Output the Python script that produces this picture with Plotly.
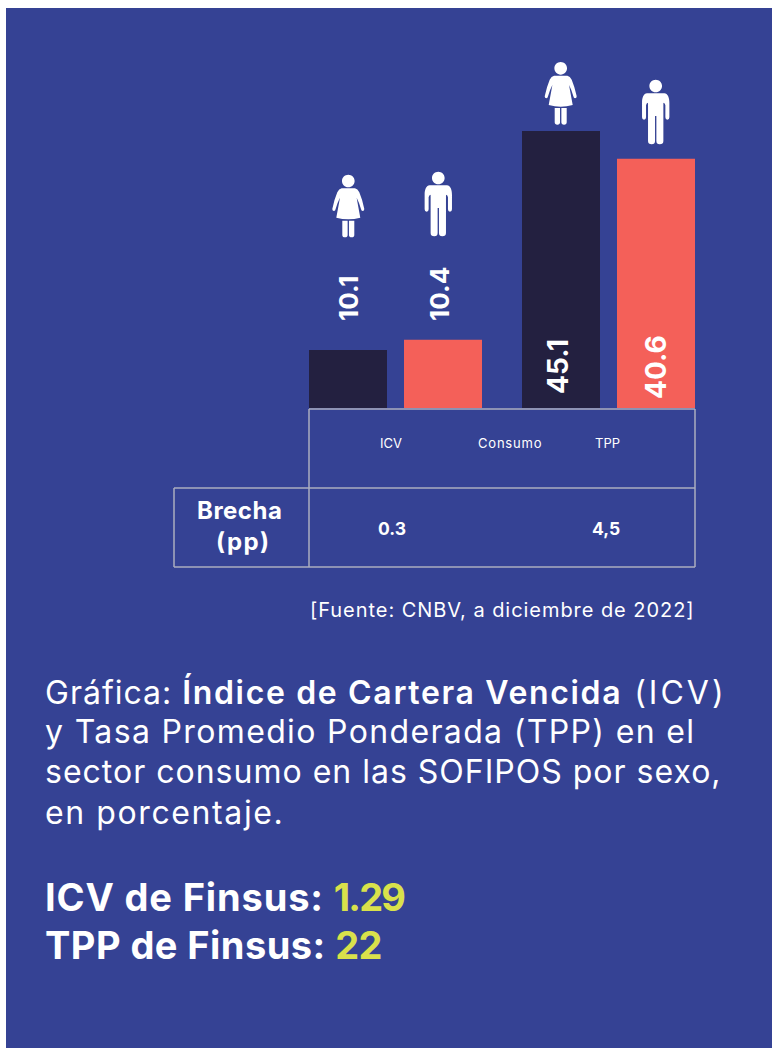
import plotly.graph_objects as go

W, H = 772, 1048
FONT = "Inter"
BLUE, DARK, RED, LINE, LIME = "#354294", "#232040", "#F46059", "#ABAEBF", "#D9E14B"

# ---- data ----
groups = [0, 1]                     # ICV, TPP
women_heights = [9.45, 45.1]        # drawn bar heights
men_heights = [11.1, 40.6]
women_labels = ["10.1", "45.1"]     # printed values
men_labels = ["10.4", "40.6"]
table_headers = ["ICV", "Consumo", "TPP"]
gap_label = ["Brecha", "(pp)"]
gap_values = ["0.3", "4,5"]
source = "[Fuente: CNBV, a diciembre de 2022]"
finsus_names = ["ICV de Finsus: ", "TPP de Finsus: "]
finsus_values = ["1.29", "22"]


def px(x):
    return x / W


def py(y):
    return 1 - y / H


PLOT_L, PLOT_R, PLOT_T, PLOT_B = 309, 695, 8, 408
PX_PER_UNIT = 277 / 45.1

fig = go.Figure()
fig.add_bar(x=groups, y=women_heights, marker_color=DARK, marker_line_width=0,
            name="Mujeres", hoverinfo="skip")
fig.add_bar(x=groups, y=men_heights, marker_color=RED, marker_line_width=0,
            name="Hombres", hoverinfo="skip")

shapes = [dict(type="rect", xref="paper", yref="paper", x0=px(6), x1=1, y0=0, y1=py(8),
               fillcolor=BLUE, line_width=0, layer="below")]

# table rules
for x0, x1, y0, y1 in [(309, 695, 409, 409), (174, 695, 488, 488), (174, 695, 567, 567),
                       (174, 174, 488, 567), (309, 309, 409, 567), (695, 695, 409, 567)]:
    shapes.append(dict(type="line", xref="paper", yref="paper", x0=px(x0), x1=px(x1),
                       y0=py(y0), y1=py(y1), line=dict(color=LINE, width=1.5)))


def fmt(segs, s=1 / 3):
    out = []
    for cmd, *pts in segs:
        coords = " ".join(f"{pts[i] * s:.2f},{-pts[i + 1] * s:.2f}" for i in range(0, len(pts), 2))
        out.append(f"{cmd}{coords}")
    return " ".join(out)


k = 19 * 0.5523
HEAD = [("M", -19, 0), ("C", -19, -k, -k, -19, 0, -19), ("C", k, -19, 19, -k, 19, 0),
        ("C", 19, k, k, 19, 0, 19), ("C", -k, 19, -19, k, -19, 0), ("Z",)]
MAN = [("M", -26, 22), ("L", 26, 22), ("C", 36, 22, 41, 35, 41, 50), ("L", 41, 94),
       ("Q", 41, 101, 35, 101), ("Q", 29, 101, 29, 94), ("L", 29, 58), ("Q", 28, 50, 23, 50),
       ("L", 23, 165), ("Q", 23, 175, 12, 175), ("Q", 2, 175, 2, 165), ("L", 2, 90), ("L", -2, 90),
       ("L", -2, 165), ("Q", -2, 175, -12, 175), ("Q", -23, 175, -23, 165), ("L", -23, 50),
       ("Q", -28, 50, -29, 58), ("L", -29, 94), ("Q", -29, 101, -35, 101), ("Q", -41, 101, -41, 94),
       ("L", -41, 50), ("C", -41, 35, -36, 22, -26, 22), ("Z",)]
WOMAN = [("M", -20, 22), ("L", 20, 22), ("Q", 28, 24, 33, 34), ("Q", 42, 55, 48, 84),
         ("Q", 48, 90, 43, 90), ("Q", 39, 90, 38, 84), ("Q", 33, 65, 25, 50), ("L", 36, 110),
         ("Q", 0, 120, -36, 110), ("L", -25, 50), ("Q", -33, 65, -38, 84), ("Q", -39, 90, -43, 90),
         ("Q", -48, 90, -48, 84), ("Q", -42, 55, -33, 34), ("Q", -28, 24, -20, 22), ("Z",),
         ("M", -18, 119), ("L", -2, 119), ("L", -2, 162), ("Q", -2, 169, -10, 169),
         ("Q", -18, 169, -18, 162), ("Z",),
         ("M", 2, 119), ("L", 18, 119), ("L", 18, 162), ("Q", 18, 169, 10, 169),
         ("Q", 2, 169, 2, 162), ("Z",)]

for body, cx, cy in [(WOMAN, 348.3, 181), (MAN, 438.3, 178), (WOMAN, 560.7, 68.3), (MAN, 655.7, 86)]:
    shapes.append(dict(type="path", xref="paper", yref="paper",
                       xsizemode="pixel", ysizemode="pixel", xanchor=px(cx), yanchor=py(cy),
                       path=fmt(HEAD) + " " + fmt(body), fillcolor="white", line_width=0))

ann = []


def span(t, spacing=0, weight=None, color=None):
    css = [f"letter-spacing:{spacing}px"]
    if weight:
        css.append(f"font-weight:{weight}")
    if color:
        css.append(f"color:{color}")
    return f'<span style="{";".join(css)}">{t}</span>'


def text(x, y, t, size, anchor="left", angle=0):
    ann.append(dict(xref="paper", yref="paper", x=px(x), y=py(y), text=t,
                    showarrow=False, xanchor=anchor, yanchor="middle", textangle=angle,
                    font=dict(family=FONT, size=size, color="white"), borderpad=0, borderwidth=0))


for x, y, t, size in [(348, 298, women_labels[0], 26), (439, 294, men_labels[0], 26),
                      (558, 367, women_labels[1], 28), (656, 367, men_labels[1], 28)]:
    text(x, y, span(t, 0, 700), size, "center", angle=-90)

for x, t, sp in zip([391, 510, 607], table_headers, [0, 0.8, 0]):
    text(x, 443, span(t, sp), 13, "center")
for x, t in zip([392, 606], gap_values):
    text(x, 528, span(t, 0, 700), 17.5, "center")
text(239, 510, span(gap_label[0], 0.5, 700), 24, "center")
text(243, 541, span(gap_label[1], 1.5, 700), 24, "center")
text(695, 610, span(source, 0.95), 20, "right")

text(45, 692, span("Gráfica: ", 1.0) + span("Índice de Cartera Vencida", 1.65, 600) + span(" (ICV)", 3.0), 32)
text(45, 731, span("y Tasa Promedio Ponderada (TPP) en el", 1.35), 32)
text(45, 771, span("sector consumo en las SOFIPOS por sexo,", 1.0), 32)
text(45, 812, span("en porcentaje.", 1.6), 32)

for y, name, value, sp_n, sp_v in zip([897, 945], finsus_names, finsus_values, [0.85, 0.45], [-1.8, -0.5]):
    text(45, y, span(name, sp_n, 700) + span(value, sp_v, 700, LIME), 38)

fig.update_layout(
    width=W, height=H, margin=dict(l=0, r=0, t=0, b=0),
    paper_bgcolor="white", plot_bgcolor="rgba(0,0,0,0)",
    showlegend=False, barmode="group", bargap=1 - 190 / 213, bargroupgap=1 - 78 / 95,
    xaxis=dict(domain=[px(PLOT_L), px(PLOT_R)], range=[-86.5 / 213, 1 + 86.5 / 213],
               showgrid=False, zeroline=False, showticklabels=False, ticks=""),
    yaxis=dict(domain=[py(PLOT_B), py(PLOT_T)], range=[0, (PLOT_B - PLOT_T) / PX_PER_UNIT],
               showgrid=False, zeroline=False, showticklabels=False, ticks=""),
    shapes=shapes, annotations=ann,
)

fig.write_html("out.html", config={"displayModeBar": False},
               post_script="document.body.style.margin='0';document.documentElement.style.overflow='hidden';")
